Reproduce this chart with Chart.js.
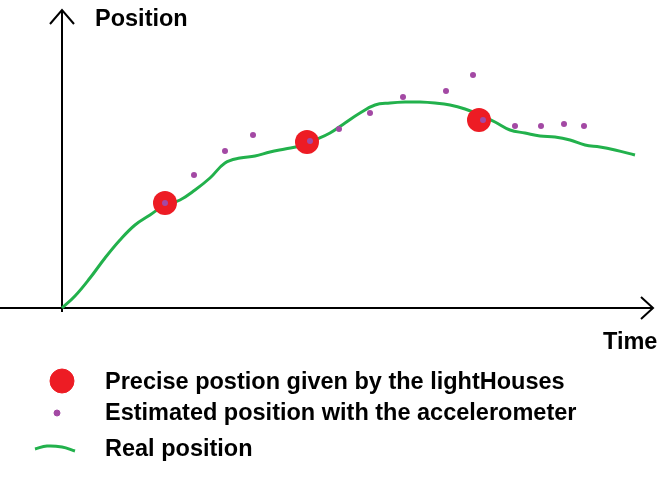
<html>
<head>
  <meta charset="utf-8">
  <title>Position over time</title>
  <style>
    html, body { margin: 0; padding: 0; background: #fff; }
    #wrap { position: relative; width: 668px; height: 478px; }
    .lbl { position: absolute; font: bold 23.5px "Liberation Sans", Arial, sans-serif; color: #000; white-space: nowrap; line-height: 24px; }
  </style>
  <script src="https://cdn.jsdelivr.net/npm/chart.js@4/dist/chart.umd.min.js"></script>
</head>
<body>
  <div id="wrap">
    <canvas id="chart" width="668" height="478"></canvas>
    <div class="lbl" style="left:95px;top:6px">Position</div>
    <div class="lbl" style="left:603px;top:329px">Time</div>
    <div class="lbl" style="left:105px;top:369px">Precise postion given by the lightHouses</div>
    <div class="lbl" style="left:105px;top:400px">Estimated position with the accelerometer</div>
    <div class="lbl" style="left:105px;top:436px">Real position</div>
  </div>
  <script>
    // Values (time, position); origin at the axes crossing
    var realTime = [0, 13, 28, 43, 58, 73, 88, 103, 118, 133, 148, 163, 178, 193, 208, 223, 238, 253, 268, 283, 298, 313, 328, 343, 358, 373, 388, 403, 418, 433, 448, 463, 478, 493, 508, 523, 538, 553, 573];
    var realPos = [0, 12, 30, 50, 68, 83, 93, 103, 108, 118, 130, 145, 150, 152, 156, 159, 162, 168, 175, 185, 195, 203, 205, 206, 206, 205, 203, 199, 193, 186, 178, 175, 172, 171, 168, 163, 161, 158, 153];
    var preciseTime = [103, 245, 417];
    var precisePos = [105, 166, 188];
    var estTime = [103, 132, 163, 191, 248, 277, 308, 341, 384, 411, 421, 453, 479, 502, 522];
    var estPos = [105, 133, 157, 173, 167, 179, 195, 211, 217, 233, 188, 182, 182, 184, 182];

    function pts(xs, ys) { return xs.map(function (x, i) { return { x: x, y: ys[i] }; }); }

    var black = '#000000', green = '#22b14c', red = '#ed1c24', purple = '#a349a4';
    function line(data, color, w, order) {
      return { data: data, showLine: true, borderColor: color, borderWidth: w, pointRadius: 0, order: order, tension: 0 };
    }

    new Chart(document.getElementById('chart'), {
      type: 'scatter',
      data: {
        datasets: [
          line([{ x: 0, y: -4 }, { x: 0, y: 298 }], black, 2, 10),
          line([{ x: -12, y: 284 }, { x: 0, y: 298 }, { x: 12, y: 284 }], black, 2, 10),
          line([{ x: -62, y: 0 }, { x: 591, y: 0 }], black, 2, 10),
          line([{ x: 579, y: 11 }, { x: 591, y: 0 }, { x: 579, y: -11 }], black, 2, 10),
          Object.assign(line(pts(realTime, realPos), green, 3, 5), { tension: 0.4 }),
          { data: pts(preciseTime, precisePos), pointRadius: 12, backgroundColor: red, borderColor: red, pointBorderWidth: 0, order: 3 },
          { data: pts(estTime, estPos), pointRadius: 3, backgroundColor: purple, borderColor: purple, pointBorderWidth: 0, order: 1 },
          // legend markers
          { data: [{ x: 0, y: -73 }], pointRadius: 12, backgroundColor: red, borderColor: red, order: 3 },
          { data: [{ x: -5, y: -105 }], pointRadius: 3, backgroundColor: purple, borderColor: purple, order: 1 },
          Object.assign(line([{ x: -27, y: -141 }, { x: -15, y: -138 }, { x: 0, y: -139 }, { x: 13, y: -143 }], green, 3, 5), { tension: 0.4 })
        ]
      },
      options: {
        responsive: false,
        animation: false,
        clip: false,
        layout: { padding: 0, autoPadding: false },
        plugins: { legend: { display: false }, tooltip: { enabled: false } },
        scales: {
          x: { type: 'linear', display: false, min: -62, max: 606 },
          y: { type: 'linear', display: false, min: -170, max: 308 }
        }
      }
    });
  </script>
</body>
</html>
